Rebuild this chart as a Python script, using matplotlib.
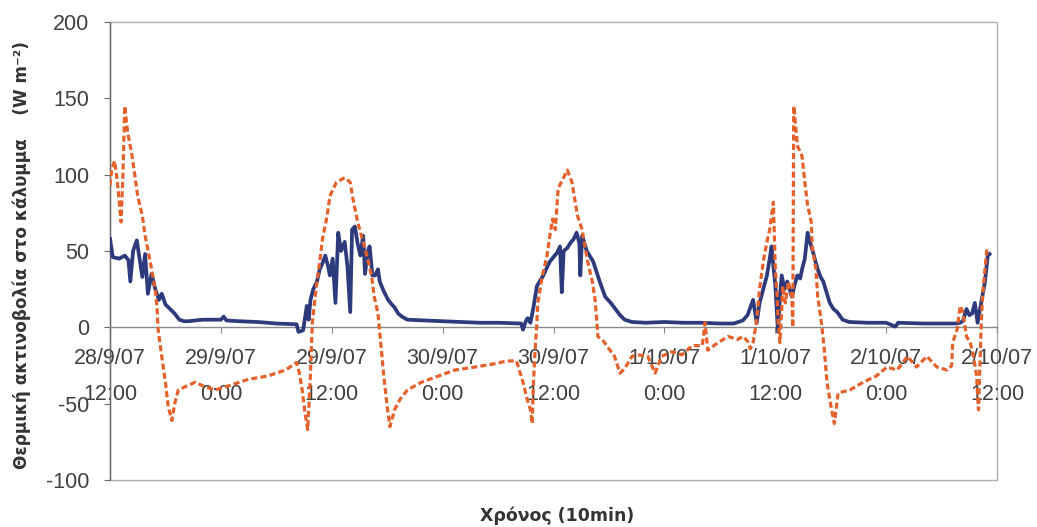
import matplotlib
matplotlib.use("Agg")
import matplotlib.pyplot as plt
from matplotlib.patches import Rectangle
import numpy as np

# time in hours from 28/9/07 12:00
blue_t = [0, 0.3, 1.0, 1.6, 2.0, 2.2, 2.5, 2.9, 3.2, 3.5, 3.8, 4.1, 4.5, 4.9, 5.3, 5.6, 6.0, 6.5, 7.0, 7.5, 8.0,
          8.5, 10, 12, 12.3, 12.6, 14, 16, 17, 18, 20,
          20.2, 20.4, 20.9, 21.1, 21.3, 21.5, 21.7, 22.0, 22.4, 22.7, 23.0, 23.3, 23.6, 23.8, 24.1, 24.4, 24.7, 25.0,
          25.4, 25.7, 26.0, 26.2, 26.5, 26.8, 27.1, 27.4, 27.6, 27.9, 28.1, 28.4, 28.7, 29.0, 29.2, 29.6, 30.1, 30.5,
          30.8, 31.2, 31.6, 32.2, 34, 36, 38, 40, 42, 44.5,
          44.7, 45.0, 45.2, 45.5, 45.8, 46.2, 46.5, 46.9, 47.2, 47.6, 48.0, 48.4, 48.7, 48.9, 49.1, 49.5, 49.8, 50.2,
          50.5, 50.8, 50.9, 51.1, 51.6, 52.3, 53.0, 53.6, 54.2, 54.7, 55.2, 55.7, 56.5, 58, 60, 62, 64, 66, 67.5,
          68.5, 69.0, 69.6, 70.0, 70.3, 70.7, 71.1, 71.4, 71.6, 71.8, 72.0, 72.3, 72.5, 72.7, 73.0, 73.3, 73.6, 73.8,
          74.1, 74.4, 74.7, 74.9, 75.2, 75.5, 75.8, 76.1, 76.4, 76.6, 76.9, 77.2, 77.6, 77.9, 78.3, 78.7, 79.3, 80.0,
          82, 84, 85.0, 85.3, 88, 91.5, 92.0, 92.3, 92.7, 93.0, 93.3, 93.6, 93.9, 94.4, 94.7, 95.0, 95.2]
blue_v = [58, 46, 45, 47, 44, 30, 50, 57, 45, 33, 48, 22, 35, 25, 18, 22, 15, 12, 9, 5, 4,
          4, 5, 5, 7, 4.5, 4, 3.5, 3, 2.5, 2,
          2, -3, -2, 6, 14, 5, 18, 25, 30, 38, 42, 47, 40, 34, 45, 16, 62, 50,
          56, 40, 10, 64, 66, 55, 47, 60, 35, 50, 53, 34, 34, 38, 30, 24, 18, 15,
          13, 9, 7, 5, 4.5, 4, 3.5, 3, 3, 2.5,
          -1.5, 4, 6, 3, 12, 27, 30, 34, 38, 43, 46, 49, 53, 23, 50, 52, 55, 58,
          62, 55, 34, 60, 50, 43, 30, 20, 16, 12, 8, 5, 3.5, 3, 3.5, 3, 3, 2.5, 2.5,
          4.5, 8, 18, 3, 16, 25, 34, 45, 53, 40, 28, -3, 20, 34, 25, 30, 24, 20,
          28, 34, 32, 38, 45, 62, 55, 49, 42, 38, 33, 30, 22, 16, 12, 10, 5, 3.5,
          3, 3, 0.5, 3, 2.5, 2.5, 3, 4, 12, 8, 9, 16, 3, 20, 30, 47, 48]

orange_t = [0.0, 0.2, 0.5, 0.8, 1.0, 1.2, 1.4, 1.6, 1.9, 2.4, 2.7, 3.0, 3.5, 3.8, 4.1, 4.5, 4.9, 5.1, 5.2, 5.6,
            6.0, 6.3, 6.7, 7.0, 7.4, 8.1, 9.2, 10.3, 11.4, 13, 15, 17, 19, 20.2, 20.5, 20.8, 21.1, 21.4, 21.7,
            21.9, 22.3, 22.7, 23.0, 23.5, 23.8, 24.5, 25.4, 26.0, 26.3, 26.8, 27.8, 28.3, 28.6, 29.0, 29.3, 29.6,
            30.0, 30.3, 30.8, 31.4, 32.2, 33.7, 35.5, 37.3, 39.5, 41.5, 43.0, 44.0, 44.4, 44.7, 45.1, 45.5, 45.7,
            45.8, 46.0, 46.2, 46.3, 46.8, 47.3, 47.6, 47.9, 48.2, 48.5, 49.0, 49.5, 50.0, 50.3, 50.6, 51.1, 51.4,
            51.7, 52.2, 52.5, 52.7, 52.8, 53.4, 54.6, 55.2, 55.7, 56.5, 57.1, 58.2, 59.0, 59.7, 60.8, 61.9, 63.0,
            64.1, 64.4, 64.7, 65.8, 66.9, 67.9, 68.5, 69.0, 69.3, 69.6, 70.0, 70.3, 70.7, 71.1, 71.4, 71.6, 71.8,
            72.0, 72.2, 72.3, 72.5, 72.7, 72.8, 73.1, 73.4, 73.8, 73.9, 74.0, 74.4, 74.9, 75.2, 75.5, 75.9, 76.0,
            76.4, 76.6, 77.0, 77.3, 77.6, 78.1, 78.4, 78.8, 80.1, 81.5, 82.9, 84.1, 85.2, 86.3, 87.3, 88.4, 89.5,
            90.6, 91.1, 91.2, 91.7, 92.0, 92.3, 92.7, 93.1, 93.4, 93.8, 93.9, 94.0, 94.3, 94.4, 94.5, 94.7, 94.9,
            95.0]
orange_v = [93, 104, 109, 95, 82, 69, 100, 145, 128, 112, 99, 86, 73, 60, 51, 38, 25, 12, -1, -19,
            -36, -52, -61, -50, -41, -39, -36, -39, -41, -38, -34, -32, -28, -23, -30, -41, -56, -67, -30,
            3, 25, 43, 58, 73, 86, 95, 98, 95, 84, 69, 47, 34, 20, 9, -10, -30,
            -52, -65, -54, -47, -41, -36, -32, -28, -26, -24, -22, -22, -30, -36, -46, -54, -63,
            -40, -16, 3, 16, 34, 47, 60, 71, 64, 91, 97, 103, 95, 84, 73, 64, 53,
            43, 30, 18, 3, -6, -9, -19, -30, -27, -19, -18, -19, -30, -19, -16, -18, -12,
            -12, 3, -15, -10, -6, -8, -6, -9, -14, -10, 5, 25, 43, 56, 64, 73, 82,
            40, 20, 5, -10, 12, 27, 16, 30, 20, 0, 145, 119, 112, 95, 80, 69, 53,
            38, 20, 3, -14, -36, -54, -63, -43, -41, -36, -32, -26, -28, -19, -26, -19, -26,
            -28, -25, -10, -1, 14, 10, -6, -10, -17, -32, -45, -54, 3, 16, 25, 38, 51,
            52]

xtick_pos = [0, 12, 24, 36, 48, 60, 72, 84, 96]
xtick_labels = ["28/9/07\n12:00", "29/9/07\n0:00", "29/9/07\n12:00", "30/9/07\n0:00",
                "30/9/07\n12:00", "1/10/07\n0:00", "1/10/07\n12:00", "2/10/07\n0:00", "2/10/07\n12:00"]
ytick_pos = [-100, -50, 0, 50, 100, 150, 200]

fig = plt.figure(figsize=(10.37, 5.27), dpi=100)
ax = fig.add_axes([110/1037, 1-480/527, 887/1037, 458/527])

ax.plot(blue_t, blue_v, color='#2D3B7C', lw=2.7, solid_joinstyle='round', zorder=3)
ax.plot(orange_t, orange_v, color='#E4612B', lw=2.3, dashes=(1.9, 1.0), zorder=4)

ax.set_xlim(0, 96)
ax.set_ylim(-100, 200)

for s in ['top', 'right']:
    ax.spines[s].set_visible(False)
ax.spines['bottom'].set_position(('data', 0))
ax.spines['bottom'].set_color('#8a8a8a')
ax.spines['bottom'].set_linewidth(1.0)
ax.spines['left'].set_color('#6a6a6a')
ax.spines['left'].set_linewidth(1.0)
ax.add_patch(Rectangle((0, 0), 1, 1, transform=ax.transAxes, fill=False,
                       ec='#b0b0b0', lw=1.0, zorder=1, clip_on=False))

ax.set_xticks(xtick_pos)
ax.set_xticklabels(xtick_labels, fontsize=15.5, color='#404040', family='Liberation Sans',
                   linespacing=1.9)
ax.set_yticks(ytick_pos)
ax.set_yticklabels([str(v) for v in ytick_pos], fontsize=15.5, color='#404040', family='Liberation Sans')
ax.tick_params(axis='x', direction='out', length=4, color='#8a8a8a', pad=11)
ax.tick_params(axis='y', direction='out', length=4, color='#6a6a6a', pad=11)

fig.text(22/1037, 1-255/527, "Θερμική ακτινοβολία στο κάλυμμα    (W m⁻²)", rotation=90,
         ha='center', va='center', fontsize=12.2, fontweight='bold', color='#333333', family='DejaVu Sans')
fig.text(557/1037, 1-516/527, "Χρόνος (10min)", ha='center', va='center',
         fontsize=12.5, fontweight='bold', color='#333333', family='DejaVu Sans')

fig.savefig('out.png', dpi=100)
